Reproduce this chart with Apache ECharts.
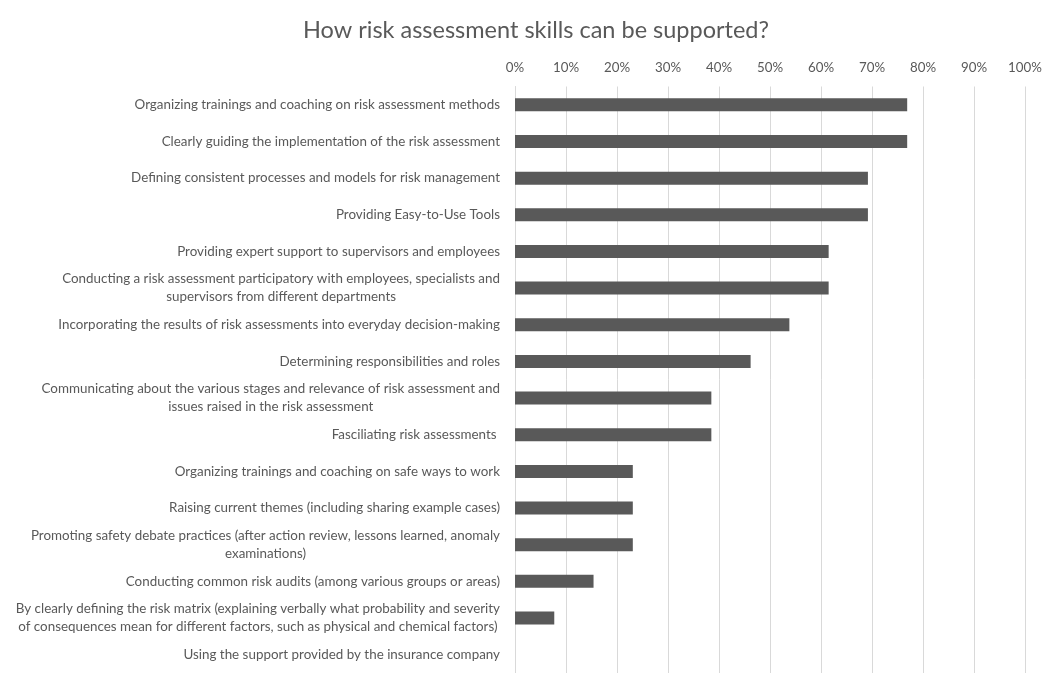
<!DOCTYPE html>
<html>
<head>
<meta charset="utf-8">
<script src="https://cdn.jsdelivr.net/npm/echarts@6/dist/echarts.min.js"></script>
<style>
html,body{margin:0;padding:0;background:#fff;}
#chart{width:1045px;height:673px;}
</style>
</head>
<body>
<div id="chart"></div>
<script>
var titleText = 'How risk assessment skills can be supported?';
var categories = [
  'Organizing trainings and coaching on risk assessment methods',
  'Clearly guiding the implementation of the risk assessment',
  'Defining consistent processes and models for risk management',
  'Providing Easy-to-Use Tools',
  'Providing expert support to supervisors and employees',
  'Conducting a risk assessment participatory with employees, specialists and\nsupervisors from different departments',
  'Incorporating the results of risk assessments into everyday decision-making',
  'Determining responsibilities and roles',
  'Communicating about the various stages and relevance of risk assessment and\nissues raised in the risk assessment',
  'Fasciliating risk assessments ',
  'Organizing trainings and coaching on safe ways to work',
  'Raising current themes (including sharing example cases)',
  'Promoting safety debate practices (after action review, lessons learned, anomaly\nexaminations)',
  'Conducting common risk audits (among various groups or areas)',
  'By clearly defining the risk matrix (explaining verbally what probability and severity\nof consequences mean for different factors, such as physical and chemical factors)',
  'Using the support provided by the insurance company'
];
var values = [76.9, 76.9, 69.2, 69.2, 61.5, 61.5, 53.8, 46.2, 38.5, 38.5, 23.1, 23.1, 23.1, 15.4, 7.7, 0];
var tickMin = 0, tickMax = 100, tickStep = 10;

var FONT = 'Lato';
var chart = echarts.init(document.getElementById('chart'), null, {renderer: 'canvas'});
chart.setOption({
  animation: false,
  backgroundColor: '#ffffff',
  title: {
    text: titleText,
    left: 531,
    textAlign: 'center',
    top: 13,
    textStyle: {fontFamily: FONT, fontSize: 23.5, fontWeight: 'normal', color: '#595959'}
  },
  grid: {left: 515, right: 20, top: 86.5, bottom: -5.5, containLabel: false},
  xAxis: {
    type: 'value',
    position: 'top',
    min: tickMin, max: tickMax, interval: tickStep,
    axisLine: {show: false},
    axisTick: {show: false},
    axisLabel: {formatter: '{value}%', fontFamily: FONT, fontSize: 13.3, color: '#595959', margin: 12},
    splitLine: {show: true, lineStyle: {color: '#d9d9d9', width: 1}}
  },
  yAxis: {
    type: 'category',
    inverse: true,
    data: categories,
    axisLine: {show: true, lineStyle: {color: '#d9d9d9'}},
    axisTick: {show: false},
    axisLabel: {
      fontFamily: FONT, fontSize: 13.4, color: '#595959', margin: 15,
      align: 'right', lineHeight: 18,
      formatter: function (v) { return '{a|' + v + '}'; },
      rich: {a: {align: 'center', fontFamily: FONT, fontSize: 13.4, color: '#595959', lineHeight: 18}}
    }
  },
  series: [{
    type: 'bar',
    data: values,
    barWidth: 13,
    itemStyle: {color: '#595959'},
    silent: true
  }]
});
</script>
</body>
</html>
